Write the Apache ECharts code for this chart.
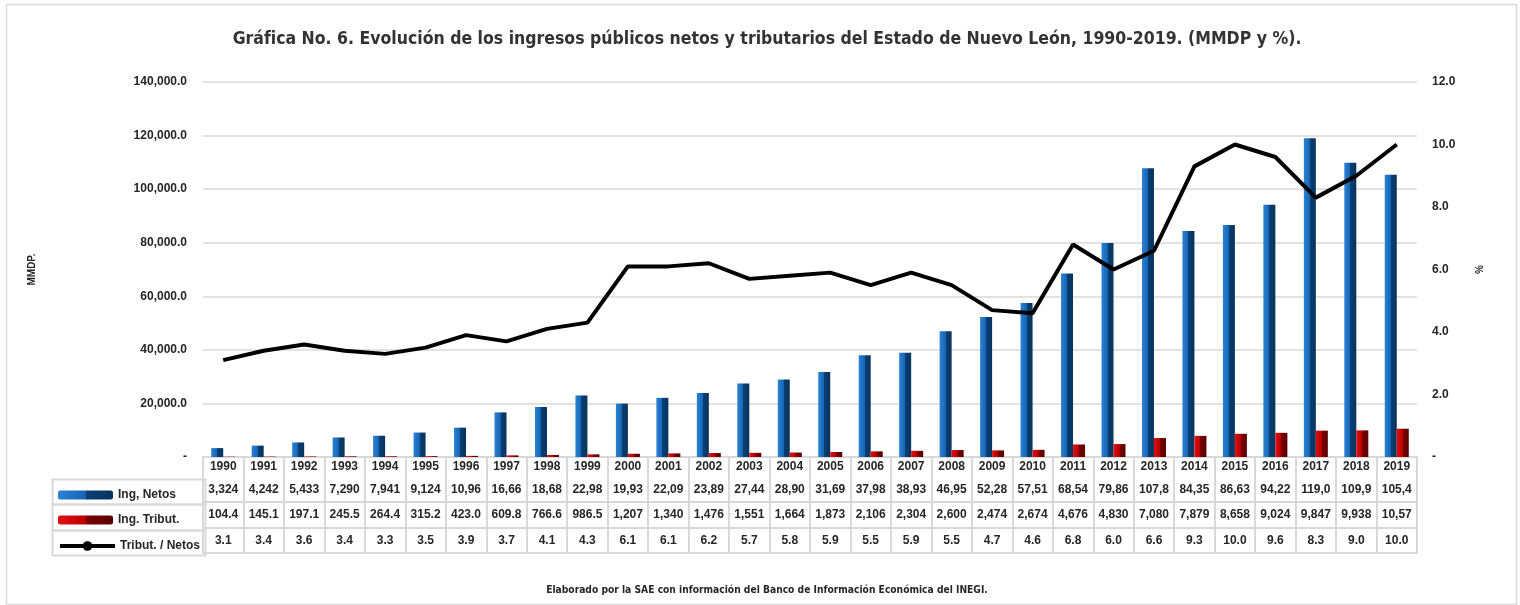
<!DOCTYPE html>
<html lang="es" style="height: 100%">
<head>
    <meta charset="UTF-8">
    <title>Gráfica No. 6</title>
    <script src="https://cdn.jsdelivr.net/npm/echarts@6/dist/echarts.min.js"></script>
</head>
<body style="height: 100%; margin: 0; background: #fff">
<div id="container" style="width: 1520px; height: 605px"></div>
<script type="text/javascript">
    // datos
    var years = ['1990', '1991', '1992', '1993', '1994', '1995', '1996', '1997', '1998', '1999',
        '2000', '2001', '2002', '2003', '2004', '2005', '2006', '2007', '2008', '2009',
        '2010', '2011', '2012', '2013', '2014', '2015', '2016', '2017', '2018', '2019'];
    var ingNetos = [3324, 4242, 5433, 7290, 7941, 9124, 10960, 16660, 18680, 22980,
        19930, 22090, 23890, 27440, 28900, 31690, 37980, 38930, 46950, 52280,
        57510, 68540, 79860, 107800, 84350, 86630, 94220, 119000, 109900, 105400];
    var ingTribut = [104.4, 145.1, 197.1, 245.5, 264.4, 315.2, 423.0, 609.8, 766.6, 986.5,
        1207, 1340, 1476, 1551, 1664, 1873, 2106, 2304, 2600, 2474,
        2674, 4676, 4830, 7080, 7879, 8658, 9024, 9847, 9938, 10570];
    var tribNetos = [3.1, 3.4, 3.6, 3.4, 3.3, 3.5, 3.9, 3.7, 4.1, 4.3,
        6.1, 6.1, 6.2, 5.7, 5.8, 5.9, 5.5, 5.9, 5.5, 4.7,
        4.6, 6.8, 6.0, 6.6, 9.3, 10.0, 9.6, 8.3, 9.0, 10.0];

    var FONT = "'Liberation Sans', Arial, sans-serif";
    var NARROW = "'DejaVu Sans Condensed', 'Liberation Sans', sans-serif";
    var TXT = '#262626';
    var BORDER = '#d9d9d9';

    // la celda de Excel es angosta: muestra solo 5 caracteres
    function cell(v) {
        return v.toLocaleString('en-US', {minimumFractionDigits: 1, maximumFractionDigits: 1}).slice(0, 5);
    }

    var blue = {
        type: 'linear', x: 0, y: 0, x2: 1, y2: 0,
        colorStops: [{offset: 0, color: '#2b82d4'}, {offset: 0.5, color: '#1564b3'},
            {offset: 0.5, color: '#0b3f74'}, {offset: 1, color: '#08335e'}]
    };
    var red = {
        type: 'linear', x: 0, y: 0, x2: 1, y2: 0,
        colorStops: [{offset: 0, color: '#e01010'}, {offset: 0.5, color: '#b80000'},
            {offset: 0.5, color: '#7c0000'}, {offset: 1, color: '#5a0000'}]
    };

    // cada renglón de la tabla es un eje de categorías desplazado hacia abajo
    function tableAxis(offset, texts, margin) {
        return {
            type: 'category',
            data: years,
            position: 'bottom',
            offset: offset,
            axisLine: {show: true, lineStyle: {color: BORDER, width: 2}},
            axisTick: {show: false},
            axisLabel: {
                show: !!texts, interval: 0, margin: margin || 7, hideOverlap: false,
                fontFamily: FONT, fontWeight: 'bold', fontSize: 12, color: TXT, lineHeight: 12,
                formatter: function (v, i) { return texts ? texts[i] : ''; }
            },
            splitLine: {show: false}
        };
    }

    var dom = document.getElementById('container');
    var myChart = echarts.init(dom);

    var legendText = {fontFamily: FONT, fontWeight: 'bold', fontSize: 12, color: TXT, lineHeight: 14};

    var xAxes = [
        tableAxis(0, years, 4),
        tableAxis(20, ingNetos.map(cell)),
        tableAxis(45, ingTribut.map(cell)),
        tableAxis(71, tribNetos.map(function (v) { return v.toFixed(1); })),
        tableAxis(96, null)
    ];
    // rejilla de la tabla: las divisiones verticales salen de splitLine
    xAxes.push({
        type: 'category', data: years, gridIndex: 1, z: 50,
        axisLine: {show: false}, axisTick: {show: false}, axisLabel: {show: false},
        splitLine: {show: true, interval: 0, lineStyle: {color: BORDER, width: 2}}
    });

    var option = {
        animation: false,
        backgroundColor: '#fff',
        textStyle: {fontFamily: FONT},
        title: [{
            text: 'Gráfica No. 6. Evolución de los ingresos públicos netos y tributarios del Estado de Nuevo León, 1990-2019. (MMDP y %).',
            left: 762, top: 25, textAlign: 'center',
            textStyle: {fontFamily: NARROW, fontWeight: 'bold', fontSize: 17.5, color: '#333'}
        }, {
            text: 'Elaborado por la SAE con información del Banco de Información Económica del INEGI.',
            left: 762, top: 580, textAlign: 'center',
            textStyle: {fontFamily: NARROW, fontWeight: 'bold', fontSize: 10.2, color: TXT}
        }],
        grid: [
            {left: 203, right: 103, top: 82, bottom: 148},
            {left: 203, right: 103, top: 457, height: 96}
        ],
        legend: [{
            data: ['Ing, Netos'], left: 53, top: 483, itemWidth: 55, itemHeight: 9,
            textStyle: legendText
        }, {
            data: ['Ing. Tribut.'], left: 53, top: 508, itemWidth: 55, itemHeight: 9,
            textStyle: legendText
        }, {
            data: ['Tribut. / Netos'], left: 53, top: 534, itemWidth: 55, itemHeight: 12,
            lineStyle: {width: 4},
            textStyle: legendText
        }],
        xAxis: xAxes,
        yAxis: [{
            type: 'value', min: 0, max: 140000, interval: 20000,
            name: 'MMDP.', nameLocation: 'middle', nameGap: 166,
            nameTextStyle: {fontFamily: FONT, fontWeight: 'bold', fontSize: 10, color: TXT},
            axisLine: {show: false}, axisTick: {show: false},
            axisLabel: {
                margin: 16, fontFamily: FONT, fontWeight: 'bold', fontSize: 12, color: TXT,
                formatter: function (v) {
                    return v === 0 ? '-' : v.toLocaleString('en-US', {minimumFractionDigits: 1});
                }
            },
            splitLine: {lineStyle: {color: BORDER, width: 1.5}}
        }, {
            type: 'value', min: 0, max: 12, interval: 2, position: 'right',
            name: '%', nameLocation: 'middle', nameGap: 58,
            nameTextStyle: {fontFamily: FONT, fontWeight: 'bold', fontSize: 10, color: TXT},
            axisLine: {show: false}, axisTick: {show: false},
            axisLabel: {
                margin: 15, fontFamily: FONT, fontWeight: 'bold', fontSize: 12, color: TXT,
                formatter: function (v) { return v === 0 ? '-' : v.toFixed(1); }
            },
            splitLine: {show: false}
        }, {
            type: 'value', gridIndex: 1, show: false
        }],
        series: [{
            name: 'Ing, Netos', type: 'bar', data: ingNetos,
            barWidth: 12, barGap: '0%',
            itemStyle: {color: blue}
        }, {
            name: 'Ing. Tribut.', type: 'bar', data: ingTribut,
            barWidth: 12,
            itemStyle: {color: red}
        }, {
            name: 'Tribut. / Netos', type: 'line', data: tribNetos, yAxisIndex: 1,
            symbol: 'circle', symbolSize: 12, showSymbol: false,
            lineStyle: {color: '#000', width: 4},
            itemStyle: {color: '#000'},
            z: 5
        }],
        graphic: [{
            type: 'rect', left: 4, top: 2, z: -10,
            shape: {width: 1510, height: 600},
            style: {fill: 'none', stroke: BORDER, lineWidth: 1.5}
        }, {
            type: 'rect', left: 50, top: 477, z: -1,
            shape: {width: 153, height: 25},
            style: {fill: 'none', stroke: BORDER, lineWidth: 2}
        }, {
            type: 'rect', left: 50, top: 502, z: -1,
            shape: {width: 153, height: 26},
            style: {fill: 'none', stroke: BORDER, lineWidth: 2}
        }, {
            type: 'rect', left: 50, top: 528, z: -1,
            shape: {width: 153, height: 25},
            style: {fill: 'none', stroke: BORDER, lineWidth: 2}
        }]
    };

    myChart.setOption(option);
</script>
</body>
</html>
